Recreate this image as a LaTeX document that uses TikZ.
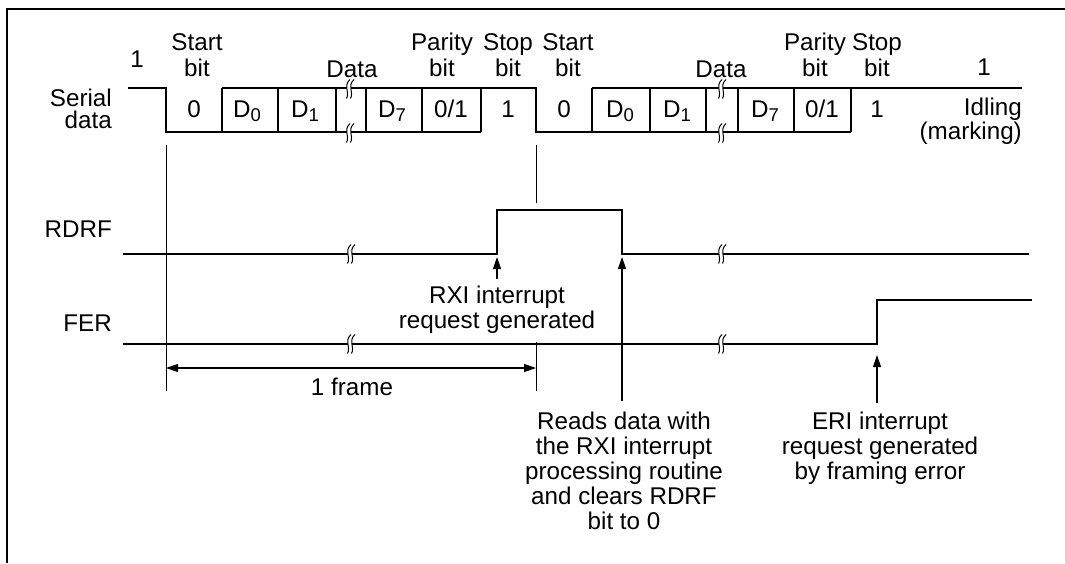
\documentclass[tikz,border=0pt]{standalone}
\usepackage{fontspec}
\setmainfont{Liberation Sans}
\usetikzlibrary{arrows.meta}
\newcommand\Dsub[1]{D\raisebox{-4.5pt}{\fontsize{18.5}{18.5}\selectfont #1}}
\begin{document}
\begin{tikzpicture}[x=1pt,y=-1pt,
  sig/.style={line width=1.2pt},
  guide/.style={line width=1pt},
  frm/.style={line width=2.2pt},
  lbl/.style={inner sep=0pt, font=\fontsize{24.2}{26}\selectfont},
  lbltight/.style={inner sep=0pt, font=\fontsize{24.2}{22}\selectfont},
  lblmid/.style={inner sep=0pt, font=\fontsize{24.2}{25}\selectfont},
  cell/.style={lbl, anchor=base},
  arr/.style={line width=1.2pt, -{Triangle[length=12pt,width=8pt]}},
  dim/.style={line width=1.2pt, {Triangle[length=12pt,width=8pt]}-{Triangle[length=12pt,width=8pt]}},
  brk/.pic={
    \path[fill=white] (0,-9.5) .. controls (-7,-3) and (0,3) .. (-3.5,9.5)
       -- (0.5,9.5) .. controls (4,3) and (-3,-3) .. (4,-9.5) -- cycle;
    \draw[line width=1pt] (0,-9.5) .. controls (-7,-3) and (0,3) .. (-3.5,9.5);
    \draw[line width=1pt] (4,-9.5) .. controls (-3,-3) and (4,3) .. (0.5,9.5);
  }]
\useasboundingbox (0,0) rectangle (1065,563);
% frame
\draw[frm] (1065,9) -- (7,9) -- (7,563);

% serial data waveform
\draw[sig] (128,88) -- (166,88) -- (166,132) -- (481,132);
\draw[sig] (222,88) -- (536,88) -- (536,132) -- (851,132);
\draw[sig] (592,88) -- (1022,88);
\foreach \x in {222,278,336,366,422,481,592,650,706,738,794,851}
  \draw[sig] (\x,88) -- (\x,132);
\foreach \x in {350,722} {
  \pic at (\x,89) {brk};
  \pic at (\x,133) {brk};
}
% cell texts
\node[cell] (c0a) at (194,117) {0};
\node[cell] (d0a) at (247,117) {\Dsub{0}};
\node[cell] (d1a) at (305,117) {\Dsub{1}};
\node[cell] (d7a) at (392,117) {\Dsub{7}};
\node[cell] (pa) at (451,117) {0/1};
\node[cell] (sa) at (508,117) {1};
\node[cell] (c0b) at (564,117) {0};
\node[cell] (d0b) at (620,117) {\Dsub{0}};
\node[cell] (d1b) at (677,117) {\Dsub{1}};
\node[cell] (d7b) at (765,117) {\Dsub{7}};
\node[cell] (pb) at (822,117) {0/1};
\node[cell] (sb) at (877,117) {1};

% top labels
\node[lbl, anchor=base] (one1) at (137,67) {1};
\node[lbl, align=center, anchor=north] (st1) at (197,33) {Start\\bit};
\node[lbltight, align=right, anchor=north east] (serial) at (112,89) {Serial\\data};
\node[lbl, anchor=base] (data1) at (352,77) {Data};
\node[lbl, align=center, anchor=north] (par1) at (442,33) {Parity\\bit};
\node[lbl, align=center, anchor=north] (stop1) at (508,33) {Stop\\bit};
\node[lbl, align=center, anchor=north] (st2) at (568,33) {Start\\bit};
\node[lbl, anchor=base] (data2) at (721,77) {Data};
\node[lbl, align=center, anchor=north] (par2) at (815,33) {Parity\\bit};
\node[lbl, align=center, anchor=north] (stop2) at (877,33) {Stop\\bit};
\node[lbl, anchor=base] (one2) at (984,75) {1};
\node[lbltight, align=right, anchor=north east] (idle) at (1022,98) {Idling\\(marking)};

% guide lines
\draw[guide] (166,145) -- (166,391);
\draw[guide] (536,145) -- (536,203);
\draw[guide] (536,342) -- (536,391);

% RDRF
\node[lbl, anchor=base east] (rdrf) at (112,237) {RDRF};
\draw[sig] (123,254) -- (497,254) -- (497,210) -- (622,210) -- (622,254) -- (1029,254);
\pic at (351,254) {brk};
\pic at (722,254) {brk};

% FER
\node[lbl, anchor=base east] (fer) at (112,331) {FER};
\draw[sig] (123,344) -- (877,344) -- (877,300) -- (1032,300);
\pic at (351,344) {brk};
\pic at (722,344) {brk};

% frame dimension
\coordinate (fl) at (166,368);
\coordinate (fr) at (536,368);
\draw[dim] (fl) -- (fr);
\node[lbl, anchor=base] (frame) at (352,395) {1 frame};

% annotations
\node[lblmid, align=center, anchor=north] (rxi) at (497,286) {RXI interrupt\\request generated};
\coordinate (rxitail) at (497,279);
\coordinate (rxitip) at (497,257);
\draw[arr] (rxitail) -- (rxitip);

\node[lblmid, align=center, anchor=north] (reads) at (624,412) {Reads data with\\the RXI interrupt\\processing routine\\and clears RDRF\\bit to 0};
\coordinate (readstail) at (622,401);
\coordinate (readstip) at (622,257);
\draw[arr] (readstail) -- (readstip);

\node[lblmid, align=center, anchor=north] (eri) at (880,412) {ERI interrupt\\request generated\\by framing error};
\coordinate (eritail) at (877,403);
\coordinate (eritip) at (877,355);
\draw[arr] (eritail) -- (eritip);
\end{tikzpicture}
\end{document}
